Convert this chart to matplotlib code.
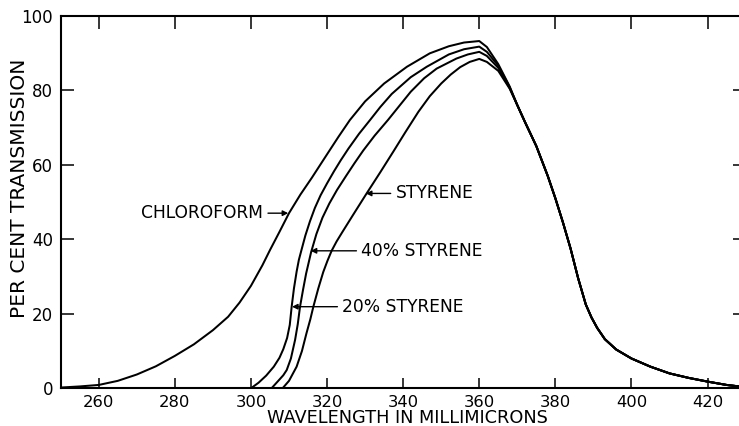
import matplotlib
matplotlib.use("Agg")
import matplotlib.pyplot as plt

# ---- data ----
wl_chloroform = [250, 255, 260, 265, 270, 275, 280, 285, 290, 294, 297, 300, 303, 305, 307.5,
                 310, 313, 316, 320, 323, 326, 330, 335, 341, 347, 352, 356, 360, 362, 365, 368]
t_chloroform = [0.2, 0.5, 0.9, 2.0, 3.7, 5.9, 8.7, 11.8, 15.6, 19.2, 23.0, 27.5, 33.0, 37.1, 42.0,
                47.0, 52.0, 56.5, 62.8, 67.5, 72.0, 77.0, 81.8, 86.3, 89.9, 91.8, 92.8, 93.2, 91.6, 87.0, 81.0]

wl_s20 = [300, 302, 304, 306, 307.5, 308.5, 309.5, 310.2, 310.7, 311.3, 312, 312.6, 313.3, 314.3,
          315.5, 316.8, 318.3, 320, 321.8, 323.6, 325.6, 328.4, 331.3, 334, 337, 342, 346.2, 352, 356,
          360, 362, 365, 368]
t_s20 = [0, 1.5, 3.4, 5.8, 8.2, 10.5, 13.5, 17.0, 21.9, 26.8, 31.3, 34.5, 37.2, 41.0,
         44.8, 48.4, 51.8, 55.0, 58.2, 61.2, 64.3, 68.3, 72.0, 75.5, 79.0, 83.5, 86.3, 89.6, 91.0,
         91.7, 90.3, 86.6, 80.8]

wl_s40 = [305.4, 307, 308.5, 309.4, 310.5, 311.6, 312.3, 312.9, 313.7, 314.5, 315.8, 317.2, 318.8,
          320.6, 322.6, 325, 327.2, 329.5, 332.5, 336, 339, 342, 345.5, 348.8, 354, 357, 360, 362,
          365, 368]
t_s40 = [0, 1.8, 3.5, 4.9, 8.0, 13.0, 17.2, 21.9, 26.5, 30.8, 36.5, 41.4, 45.8, 49.6, 53.2,
         57.0, 60.4, 63.8, 67.8, 72.0, 75.8, 79.6, 83.2, 85.8, 88.5, 89.6, 90.3, 89.2, 86.0, 80.6]

wl_styrene = [308.3, 310, 312, 313.4, 314.6, 315.6, 316.4, 317.7, 319, 320.1, 321.2, 322.5, 324,
              327, 330.4, 334, 337.4, 340.5, 344, 347, 350, 352.5, 355, 357.5, 360, 362, 365, 368]
t_styrene = [0, 2.0, 5.8, 10.0, 14.8, 18.5, 21.9, 26.8, 31.2, 34.2, 36.9, 39.4, 41.9,
             46.8, 52.3, 58.0, 63.5, 68.6, 74.2, 78.4, 81.8, 84.2, 86.2, 87.6, 88.4, 87.6, 85.2, 80.4]

# common falling branch
wl_fall = [370, 372, 375, 378, 380, 382, 384, 386, 388, 389.5, 391, 393, 396, 400, 405, 410, 415,
           420, 425, 430]
t_fall = [76.0, 71.5, 65.0, 57.0, 51.0, 44.5, 37.5, 29.5, 22.5, 19.0, 16.2, 13.2, 10.4, 8.0, 5.8,
          4.0, 2.8, 1.8, 0.9, 0.3]

x_ticks = [260, 280, 300, 320, 340, 360, 380, 400, 420]
y_ticks = [0, 20, 40, 60, 80, 100]

labels = ["CHLOROFORM", "STYRENE", "40% STYRENE", "20% STYRENE"]
label_tips = [(309.8, 47.0), (330.2, 52.3), (315.7, 36.9), (310.8, 21.9)]
label_text_pos = [(303.2, 47.0), (338.0, 52.3), (329.0, 36.9), (324.0, 21.9)]
label_ha = ["right", "left", "left", "left"]

# ---- figure ----
W, H = 739, 426
fig = plt.figure(figsize=(W / 100, H / 100), dpi=100)
left_px, right_px, top_px, bot_px = 60.7, 745.6, 15.7, 388.3
ax = fig.add_axes([left_px / W, 1 - bot_px / H, (right_px - left_px) / W, (bot_px - top_px) / H])

lw = 1.45
for wl, t in [(wl_chloroform, t_chloroform), (wl_s20, t_s20), (wl_s40, t_s40), (wl_styrene, t_styrene)]:
    ax.plot(list(wl) + wl_fall, list(t) + t_fall, color="black", lw=lw, solid_capstyle="round",
            solid_joinstyle="round")

ax.set_xlim(250, 430)
ax.set_ylim(0, 100)
ax.set_xticks(x_ticks)
ax.set_yticks(y_ticks)
ax.set_xticklabels([str(v) for v in x_ticks])
ax.set_yticklabels([str(v) for v in y_ticks])

for s in ["left", "bottom", "top"]:
    ax.spines[s].set_linewidth(1.5)
ax.spines["right"].set_visible(False)

ax.tick_params(axis="x", which="major", direction="in", length=7, width=1.1, top=True,
               labelsize=11.8, pad=4.8)
ax.tick_params(axis="y", which="major", direction="in", length=9.5, width=1.1, right=True,
               labelsize=12, pad=5.4)
for tick in ax.xaxis.get_major_ticks():
    tick.tick2line.set_markersize(9)

for txt, tip, pos, ha in zip(labels, label_tips, label_text_pos, label_ha):
    ax.annotate(txt, xy=tip, xytext=pos, ha=ha, va="center", fontsize=12.3,
                arrowprops=dict(arrowstyle="-|>", color="black", lw=1.0, shrinkA=1.5, shrinkB=0,
                                mutation_scale=8))

fig.text(407.5 / W, 1 - 423.0 / H, "WAVELENGTH IN MILLIMICRONS", ha="center", va="baseline", fontsize=12.8)
fig.text(20 / W, 1 - 188 / H, "PER CENT TRANSMISSION", ha="center", va="center", rotation=90, fontsize=14.5)

fig.savefig("out.png", dpi=100, facecolor="white")
